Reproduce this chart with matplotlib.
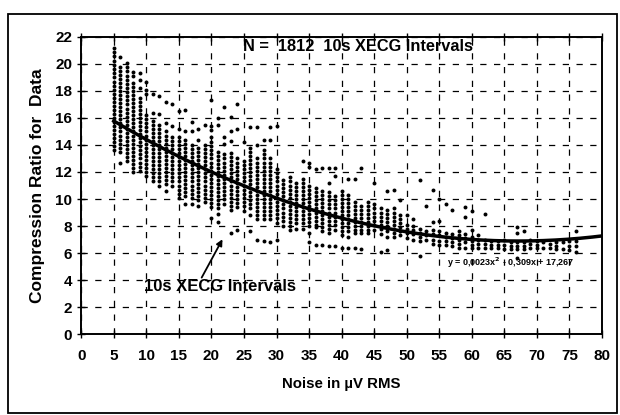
import matplotlib
matplotlib.use("Agg")
import matplotlib.pyplot as plt
from matplotlib.patches import Rectangle
import numpy as np

plt.rcParams['font.family'] = ['Liberation Sans', 'DejaVu Sans']
plt.rcParams['font.weight'] = 'bold'

# compression ratio readings, grouped by noise level (uV RMS)
cr_by_noise = {
    5: [21.2, 20.9, 20.6, 20.2, 19.9, 19.6, 19.3, 19.0, 18.7, 18.4, 18.1, 17.8, 17.5, 17.2, 16.9, 16.6, 16.3, 16.0, 15.7, 15.4, 15.1, 14.8, 14.5, 14.2, 13.9, 13.6],
    6: [20.5, 19.8, 19.5, 19.2, 18.9, 18.6, 18.3, 18.0, 17.7, 17.4, 17.1, 16.8, 16.5, 16.2, 15.9, 15.6, 15.3, 15.0, 14.7, 14.4, 14.1, 13.8, 13.5, 12.7],
    7: [20.1, 19.8, 19.5, 19.1, 18.8, 18.5, 18.2, 17.9, 17.6, 17.3, 17.0, 16.7, 16.4, 16.1, 15.8, 15.5, 15.2, 14.9, 14.6, 14.3, 14.0, 13.7, 13.4, 13.1, 12.8],
    8: [19.4, 19.1, 18.6, 18.3, 18.0, 17.7, 17.4, 17.1, 16.8, 16.5, 16.2, 15.9, 15.6, 15.3, 15.0, 14.7, 14.4, 14.1, 13.8, 13.5, 13.2, 12.9, 12.6, 12.3, 12.0],
    9: [19.3, 18.8, 18.2, 17.5, 17.2, 16.9, 16.6, 16.3, 16.0, 15.7, 15.4, 15.1, 14.8, 14.5, 14.2, 13.9, 13.6, 13.3, 13.0, 12.7, 12.4, 12.1],
    10: [18.7, 18.1, 17.8, 16.2, 15.9, 15.6, 15.3, 15.0, 14.7, 14.4, 14.1, 13.8, 13.5, 13.2, 12.9, 12.6, 12.3, 12.0, 11.7],
    11: [17.8, 16.4, 15.8, 15.5, 15.2, 14.9, 14.6, 14.3, 14.0, 13.7, 13.4, 13.1, 12.8, 12.5, 12.2, 11.9, 11.6, 11.3],
    12: [17.6, 16.3, 15.5, 15.2, 14.9, 14.6, 14.3, 14.0, 13.7, 13.4, 13.1, 12.8, 12.5, 12.2, 11.9, 11.6, 11.3, 11.0],
    13: [17.2, 15.6, 15.0, 14.7, 14.4, 14.1, 13.8, 13.5, 13.2, 12.9, 12.6, 12.3, 12.0, 11.7, 11.4, 11.1, 10.6],
    14: [17.0, 15.4, 14.6, 14.3, 14.0, 13.7, 13.4, 13.1, 12.8, 12.5, 12.2, 11.9, 11.6, 11.3, 11.0],
    15: [16.5, 15.2, 14.6, 14.3, 14.0, 13.7, 13.4, 13.1, 12.8, 12.5, 12.2, 11.9, 11.6, 11.3, 11.0, 10.7, 10.4, 10.1],
    16: [16.6, 15.0, 14.4, 14.1, 13.8, 13.5, 13.2, 12.9, 12.6, 12.3, 12.0, 11.7, 11.4, 11.1, 10.8, 10.5, 10.2, 9.6],
    17: [15.7, 15.0, 14.0, 13.7, 13.4, 13.1, 12.8, 12.5, 12.2, 11.9, 11.6, 11.3, 11.0, 10.7, 10.4, 10.1, 9.6],
    18: [15.2, 14.4, 13.8, 13.5, 13.2, 12.9, 12.6, 12.3, 12.0, 11.7, 11.4, 11.1, 10.8, 10.5, 10.2, 9.9, 9.5],
    19: [15.5, 14.0, 13.7, 13.4, 13.1, 12.8, 12.5, 12.2, 11.9, 11.6, 11.3, 11.0, 10.7, 10.4, 10.1, 9.8],
    20: [17.3, 15.4, 15.1, 14.6, 14.2, 13.9, 13.6, 13.3, 13.0, 12.7, 12.4, 12.1, 11.8, 11.5, 11.2, 10.9, 10.6, 10.3, 10.0, 9.7, 9.4, 8.6],
    21: [16.0, 15.5, 13.5, 13.2, 12.9, 12.6, 12.3, 12.0, 11.7, 11.4, 11.1, 10.8, 10.5, 10.2, 9.9, 9.6, 9.3, 8.9, 8.3],
    22: [16.8, 14.6, 14.1, 13.3, 13.0, 12.7, 12.4, 12.1, 11.8, 11.5, 11.2, 10.9, 10.6, 10.3, 10.0, 9.6],
    23: [16.1, 15.0, 14.3, 13.4, 13.1, 12.8, 12.5, 12.2, 11.9, 11.6, 11.3, 11.0, 10.7, 10.4, 10.1, 9.8, 9.5, 9.2, 7.5],
    24: [17.0, 15.2, 13.0, 12.7, 12.4, 12.1, 11.8, 11.5, 11.2, 10.9, 10.6, 10.3, 10.0, 9.7, 9.4, 7.7],
    25: [14.2, 12.8, 12.5, 12.2, 11.9, 11.6, 11.3, 11.0, 10.7, 10.4, 10.1, 9.8, 9.5, 9.1],
    26: [15.3, 13.8, 13.5, 13.2, 12.9, 12.6, 12.3, 12.0, 11.7, 11.4, 11.1, 10.8, 10.5, 10.2, 9.9, 9.6, 9.3, 8.8, 7.6],
    27: [15.3, 14.0, 13.0, 12.7, 12.4, 12.1, 11.8, 11.5, 11.2, 10.9, 10.6, 10.3, 10.0, 9.7, 9.4, 9.1, 8.8, 8.5, 7.0],
    28: [14.4, 13.6, 13.3, 13.0, 12.7, 12.4, 12.1, 11.8, 11.5, 11.2, 10.9, 10.6, 10.3, 10.0, 9.7, 9.4, 9.1, 8.8, 8.5, 6.9],
    29: [15.3, 14.4, 13.0, 12.7, 12.4, 12.1, 11.8, 11.5, 11.2, 10.9, 10.6, 10.3, 10.0, 9.7, 9.4, 9.1, 8.8, 8.5, 6.8],
    30: [15.4, 12.2, 11.9, 11.6, 11.3, 11.0, 10.7, 10.4, 10.1, 9.8, 9.5, 9.2, 8.9, 8.6, 8.2, 7.0],
    31: [11.4, 11.1, 10.8, 10.5, 10.2, 9.9, 9.6, 9.3, 9.0, 8.7, 8.4, 8.0],
    32: [11.6, 11.3, 11.0, 10.7, 10.4, 10.1, 9.8, 9.5, 9.2, 8.9, 8.6, 8.3, 8.0, 7.7],
    33: [11.2, 10.9, 10.6, 10.3, 10.0, 9.7, 9.4, 9.1, 8.8, 8.5, 8.2, 7.8],
    34: [12.8, 11.5, 11.2, 10.9, 10.6, 10.3, 10.0, 9.7, 9.4, 9.1, 8.8, 8.5, 8.2, 7.8],
    35: [12.7, 12.4, 11.0, 10.7, 10.4, 10.1, 9.8, 9.5, 9.2, 8.9, 8.6, 8.3, 8.0, 7.5, 6.8],
    36: [12.2, 10.8, 10.5, 10.2, 9.9, 9.6, 9.3, 9.0, 8.7, 8.4, 8.1, 7.9, 6.6],
    37: [12.3, 10.6, 10.3, 10.0, 9.7, 9.4, 9.1, 8.8, 8.5, 8.2, 7.9, 7.6, 6.6],
    38: [12.3, 11.2, 10.5, 10.2, 9.9, 9.6, 9.3, 9.0, 8.7, 8.4, 8.1, 7.8, 7.5, 6.5],
    39: [12.3, 11.7, 10.2, 9.9, 9.6, 9.3, 9.0, 8.7, 8.4, 8.1, 7.7, 6.5],
    40: [10.6, 10.3, 10.0, 9.7, 9.4, 9.1, 8.8, 8.5, 8.2, 7.9, 7.6, 7.3, 6.4],
    41: [11.5, 10.3, 10.0, 9.7, 9.4, 9.1, 8.8, 8.5, 8.2, 7.9, 7.6, 7.2, 6.4],
    42: [11.5, 9.8, 9.5, 9.2, 8.9, 8.6, 8.3, 8.0, 7.7, 7.5, 6.4],
    43: [12.3, 9.5, 9.2, 8.9, 8.6, 8.3, 8.0, 7.7, 7.5, 6.3],
    44: [9.8, 9.5, 9.2, 8.9, 8.6, 8.3, 8.0, 7.7, 7.5],
    45: [11.2, 9.6, 9.3, 9.0, 8.7, 8.4, 8.1, 7.7],
    46: [9.3, 9.0, 8.7, 8.4, 8.1, 7.8, 7.4, 6.1],
    47: [10.6, 9.2, 8.9, 8.6, 8.3, 8.0, 7.6, 7.2, 6.2],
    48: [10.7, 9.3, 9.0, 8.7, 8.4, 8.1, 7.8, 7.5, 7.2],
    49: [9.9, 8.8, 8.5, 8.2, 7.9, 7.6, 7.3],
    50: [8.8, 8.1, 7.8, 7.5, 7.1],
    51: [8.5, 8.0, 7.7, 7.4, 7.0],
    52: [11.4, 7.8, 7.5, 7.2, 6.9, 5.8],
    53: [9.5, 7.6, 7.3, 7.0],
    54: [10.7, 8.3, 7.7, 7.4, 7.0, 6.7],
    55: [10.0, 8.4, 7.6, 7.3, 6.9, 6.6],
    56: [9.6, 7.5, 7.2, 6.9, 6.6],
    57: [9.2, 7.4, 7.1, 6.8, 6.5],
    58: [7.6, 7.3, 7.0, 6.7, 6.4],
    59: [9.4, 8.7, 7.4, 7.1, 6.8, 6.4],
    60: [9.1, 7.7, 7.2, 6.9, 6.6, 6.4],
    61: [7.3, 7.0, 6.7, 6.4],
    62: [8.9, 7.0, 6.7, 6.4],
    63: [6.9, 6.6, 6.4],
    64: [6.9, 6.6, 6.4],
    65: [7.0, 6.6, 6.3],
    66: [6.8, 6.5, 6.3],
    67: [7.9, 7.5, 6.8, 6.5, 6.3, 5.6],
    68: [7.6, 6.8, 6.5, 6.3],
    69: [7.0, 6.7, 6.4],
    70: [6.9, 6.6, 6.4],
    71: [6.8, 6.4],
    72: [6.7, 6.4],
    73: [6.8, 6.5, 6.3],
    74: [6.8, 6.3],
    75: [6.9, 6.5, 6.2],
    76: [7.6, 6.9, 6.5, 6.1],
}

# polynomial trendline shown on the chart: y = a x^2 + b x + c
trend_coef = [0.0023, -0.309, 17.267]
trend_range = [5, 80]

x_ticks = list(range(0, 81, 5))
y_ticks = list(range(0, 23, 2))

noise = []
ratio = []
for k, vals in cr_by_noise.items():
    noise += [k] * len(vals)
    ratio += vals

fig = plt.figure(figsize=(6.2, 4.15), dpi=100)
ax = fig.add_axes([0.131, 0.195, 0.840, 0.716])

ax.scatter(noise, ratio, s=8, color='black', linewidths=0, zorder=3)

xt = np.linspace(trend_range[0], trend_range[1], 200)
ax.plot(xt, np.polyval(trend_coef, xt), color='black', lw=2.5, zorder=4)

ax.set_xlim(0, 80)
ax.set_ylim(0, 22)
ax.set_xticks(x_ticks)
ax.set_yticks(y_ticks)
ax.grid(True, color='black', linestyle=(0, (5, 6)), linewidth=0.9)
ax.tick_params(axis='both', direction='inout', length=6, width=1, labelsize=11)
ax.tick_params(axis='x', top=True, pad=8)
for lab in ax.get_xticklabels() + ax.get_yticklabels():
    lab.set_fontweight('bold')
for sp in ax.spines.values():
    sp.set_linewidth(1.4)

ax.set_xlabel('Noise in µV RMS', fontsize=10.8, fontweight='bold', labelpad=10)
ax.set_ylabel('Compression Ratio for  Data', fontsize=12.5, fontweight='bold', labelpad=7)

ax.text(24.9, 21.3, 'N =  1812  10s XECG Intervals', fontsize=11.8, fontweight='bold',
        ha='left', va='center')
ax.text(9.6, 3.5, '10s XECG Intervals', fontsize=12, fontweight='bold',
        ha='left', va='center')
ax.annotate('', xy=(21.9, 7.2), xytext=(18.3, 4.0),
            arrowprops=dict(arrowstyle='-|>', color='black', lw=1.3, mutation_scale=9))
ax.text(66, 5.3, 'y = 0,0023x$^2$ - 0,309x + 17,267', fontsize=6.5, fontweight='bold',
        ha='center', va='center')

fig.patches.append(Rectangle((0.013, 0.005), 0.982, 0.961, transform=fig.transFigure,
                             fill=False, edgecolor='black', lw=1.3))

fig.savefig('out.png', dpi=100)
